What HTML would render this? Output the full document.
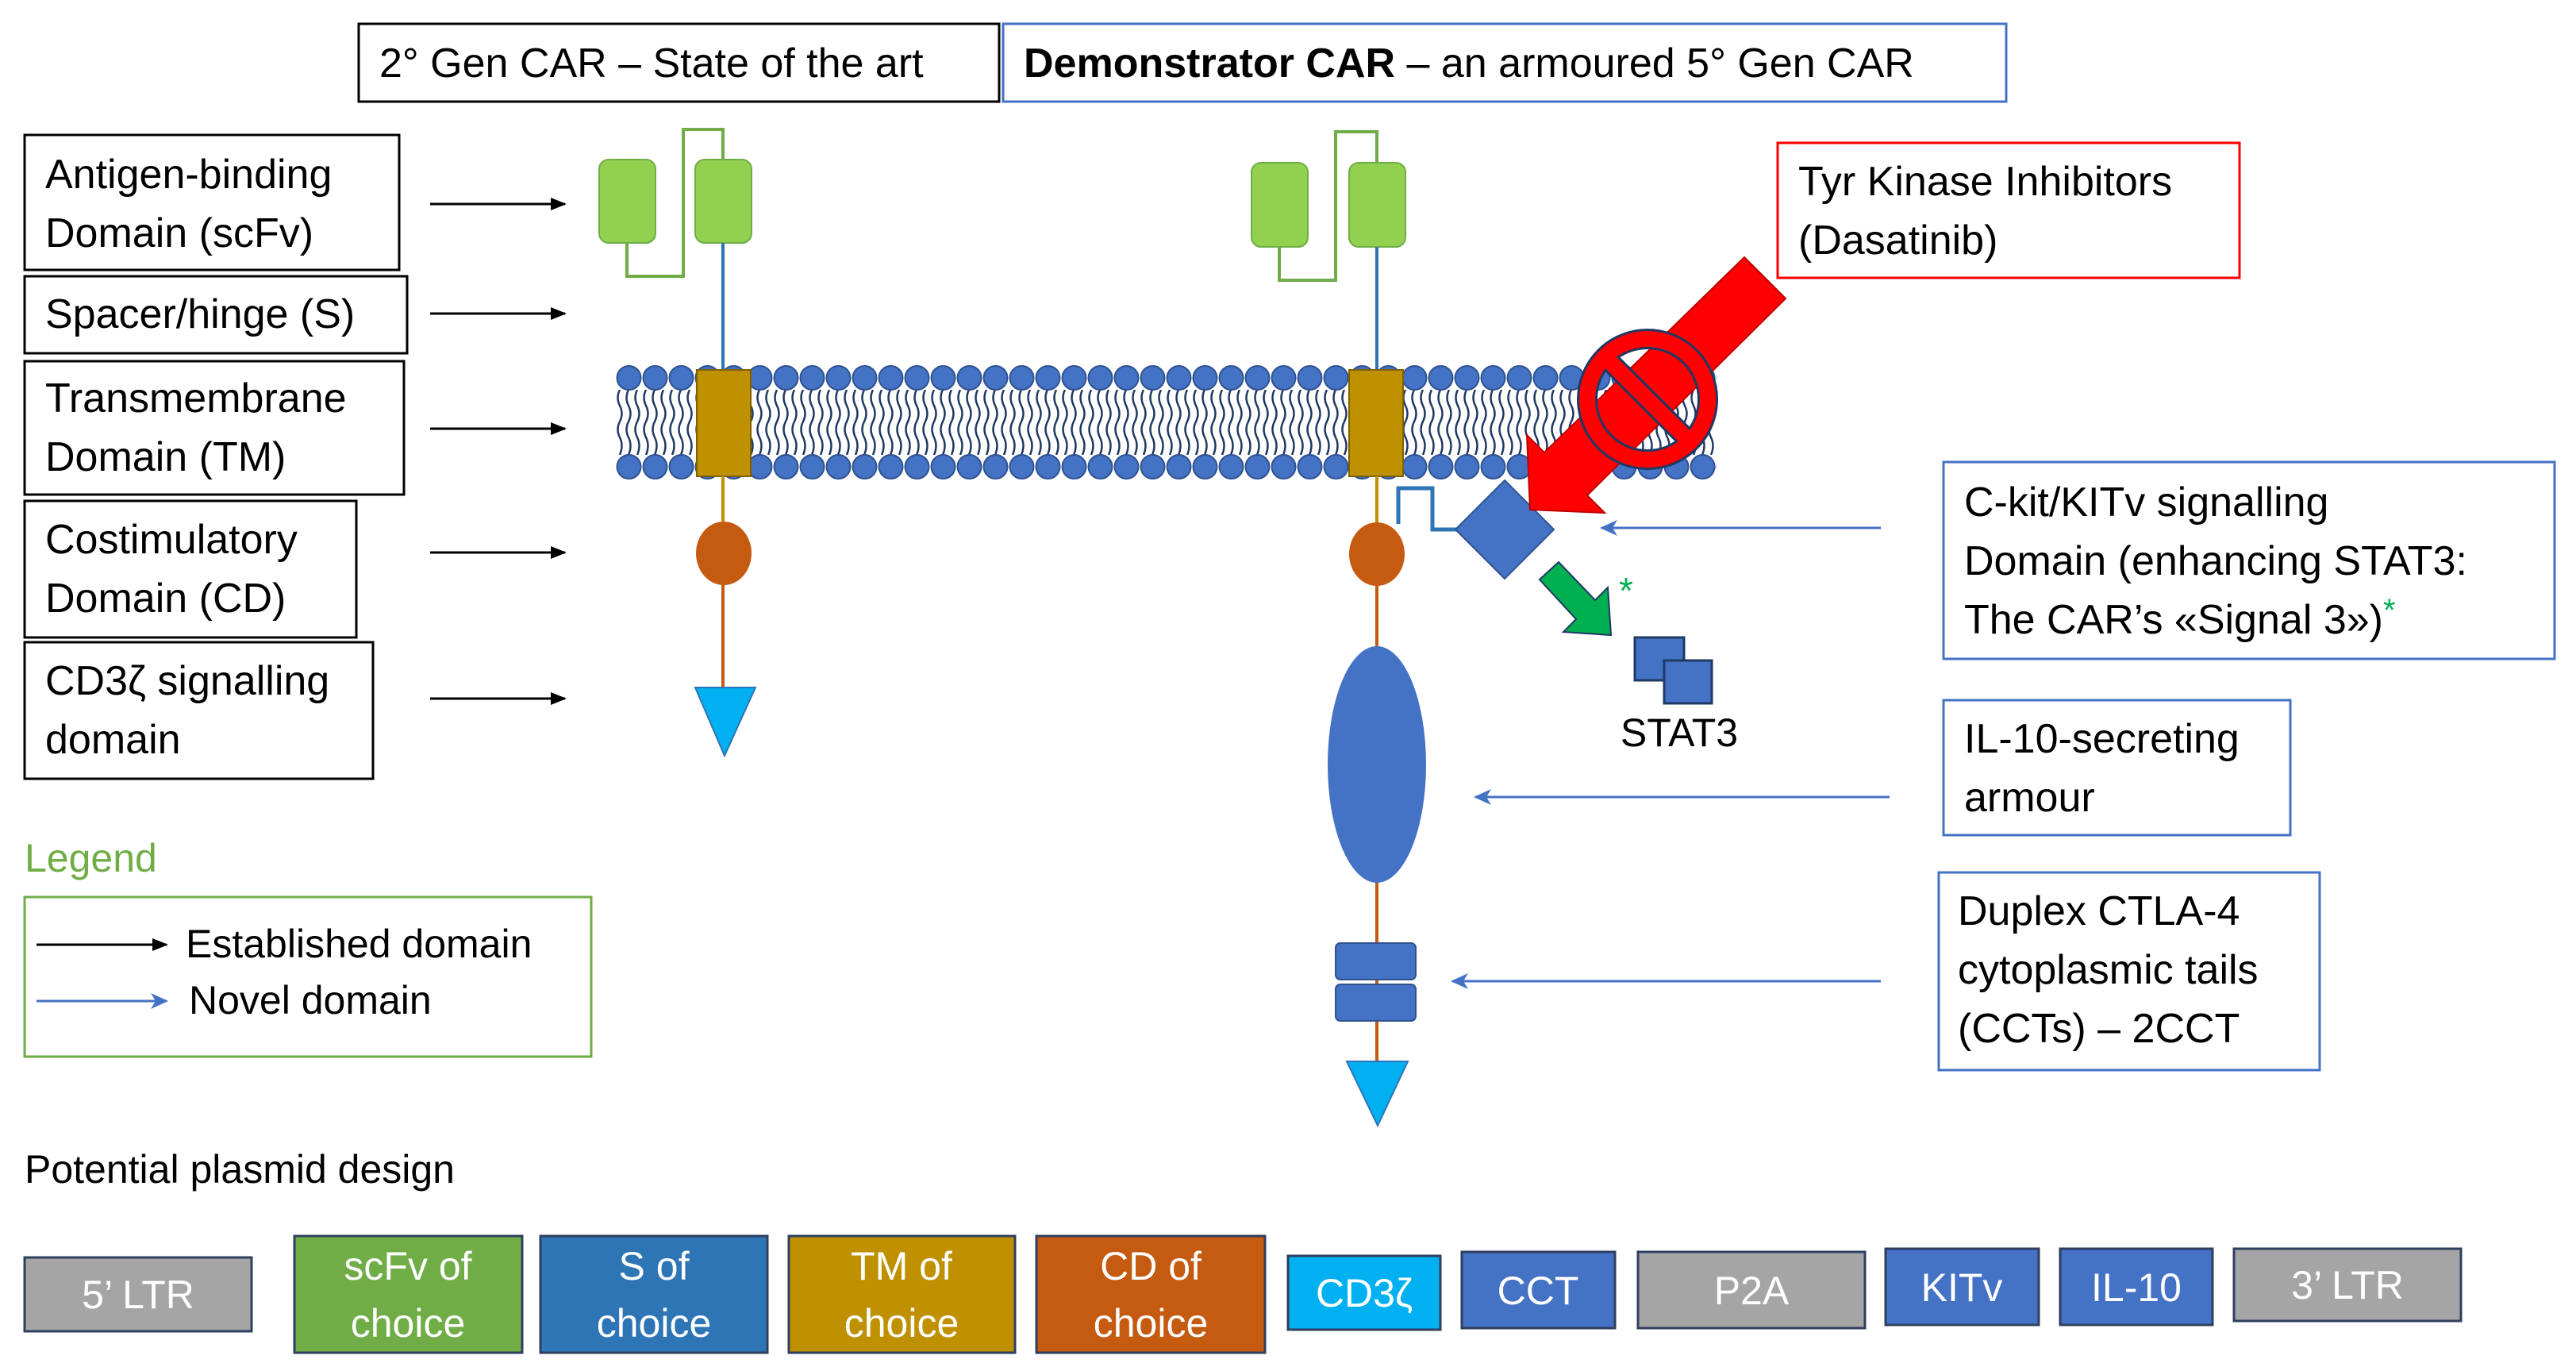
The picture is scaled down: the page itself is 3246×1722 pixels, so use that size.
<!DOCTYPE html>
<html><head><meta charset="utf-8"><style>
body{margin:0;background:#fff}
svg{display:block}
text{font-family:"Liberation Sans",sans-serif;fill:#000}
</style></head><body>
<svg width="3246" height="1722" viewBox="0 0 3246 1722" xmlns="http://www.w3.org/2000/svg">
<defs>
<pattern id="heads" x="776" y="0" width="33" height="1722" patternUnits="userSpaceOnUse">
<circle cx="16.5" cy="476" r="15" fill="#4472c4" stroke="#2f528f" stroke-width="2"/>
<circle cx="16.5" cy="588" r="15" fill="#4472c4" stroke="#2f528f" stroke-width="2"/>
</pattern>
<pattern id="tails" x="776" y="0" width="11" height="1722" patternUnits="userSpaceOnUse">
<path d="M5 491 q-5 10 0 20 q5 10 0 20 q-5 10 0 20 q5 10 0 22" fill="none" stroke="#1f3864" stroke-width="2.5"/>
</pattern>
<marker id="abl" markerWidth="22" markerHeight="20" refX="20" refY="10" orient="auto" markerUnits="userSpaceOnUse"><path d="M0 0 L22 10 L0 20 L6 10z" fill="#4472c4"/></marker>
<marker id="ab2" markerWidth="20" markerHeight="16" refX="18" refY="8" orient="auto" markerUnits="userSpaceOnUse"><path d="M0 0 L20 8 L0 16z" fill="#000"/></marker>
</defs>

<!-- header -->
<rect x="452" y="30" width="807" height="98" fill="#fff" stroke="#000" stroke-width="3"/>
<text x="478" y="97" font-size="52">2° Gen CAR – State of the art</text>
<rect x="1264" y="30" width="1264" height="98" fill="#fff" stroke="#4472c4" stroke-width="3"/>
<text x="1290" y="97" font-size="52"><tspan font-weight="bold">Demonstrator CAR</tspan> – an armoured 5° Gen CAR</text>

<!-- left labels -->
<g fill="none" stroke="#000" stroke-width="3">
<rect x="31" y="170" width="472" height="170"/>
<rect x="31" y="348" width="482" height="97"/>
<rect x="31" y="455" width="478" height="168"/>
<rect x="31" y="631" width="418" height="172"/>
<rect x="31" y="809" width="439" height="172"/>
</g>
<g font-size="52">
<text x="57" y="237">Antigen-binding</text><text x="57" y="311">Domain (scFv)</text>
<text x="57" y="413">Spacer/hinge (S)</text>
<text x="57" y="519">Transmembrane</text><text x="57" y="593">Domain (TM)</text>
<text x="57" y="697">Costimulatory</text><text x="57" y="771">Domain (CD)</text>
<text x="57" y="875">CD3ζ signalling</text><text x="57" y="949">domain</text>
</g>
<g stroke="#000" stroke-width="3" marker-end="url(#ab2)">
<line x1="542" y1="257" x2="712" y2="257"/>
<line x1="542" y1="395" x2="712" y2="395"/>
<line x1="542" y1="540" x2="712" y2="540"/>
<line x1="542" y1="696" x2="712" y2="696"/>
<line x1="542" y1="880" x2="712" y2="880"/>
</g>

<!-- legend -->
<text x="31" y="1098" font-size="50" style="fill:#70ad47">Legend</text>
<rect x="31" y="1130" width="714" height="201" fill="none" stroke="#70ad47" stroke-width="3"/>
<line x1="46" y1="1190" x2="210" y2="1190" stroke="#000" stroke-width="3" marker-end="url(#ab2)"/>
<text x="234" y="1206" font-size="50">Established domain</text>
<line x1="46" y1="1261" x2="210" y2="1261" stroke="#4472c4" stroke-width="3" marker-end="url(#abl)"/>
<text x="238" y="1277" font-size="50">Novel domain</text>

<!-- membrane -->
<rect x="776" y="491" width="1387" height="82" fill="url(#tails)"/>
<rect x="776" y="458" width="1387" height="150" fill="url(#heads)"/>

<!-- left CAR -->
<polyline points="790,306 790,348 861,348 861,163 911,163 911,201" fill="none" stroke="#70ad47" stroke-width="4"/>
<rect x="755" y="201" width="71" height="105" rx="12" fill="#92d050" stroke="#70ad47" stroke-width="2"/>
<rect x="876" y="201" width="71" height="105" rx="12" fill="#92d050" stroke="#70ad47" stroke-width="2"/>
<line x1="911" y1="306" x2="911" y2="466" stroke="#2e75b6" stroke-width="4"/>
<rect x="878" y="466" width="68" height="134" fill="#bf9000" stroke="#7f6000" stroke-width="2"/>
<line x1="911" y1="600" x2="911" y2="660" stroke="#bf9000" stroke-width="4"/>
<line x1="911" y1="735" x2="911" y2="870" stroke="#c55a11" stroke-width="4"/>
<ellipse cx="912" cy="697" rx="35" ry="40" fill="#c55a11"/>
<polygon points="876,866 952,866 913,952" fill="#00b0f0" stroke="#2e75b6" stroke-width="2"/>

<!-- right CAR -->
<polyline points="1612,311 1612,353 1683,353 1683,166 1735,166 1735,205" fill="none" stroke="#70ad47" stroke-width="4"/>
<rect x="1577" y="205" width="71" height="106" rx="12" fill="#92d050" stroke="#70ad47" stroke-width="2"/>
<rect x="1700" y="205" width="71" height="106" rx="12" fill="#92d050" stroke="#70ad47" stroke-width="2"/>
<line x1="1735" y1="311" x2="1735" y2="466" stroke="#2e75b6" stroke-width="4"/>
<rect x="1700" y="466" width="68" height="134" fill="#bf9000" stroke="#7f6000" stroke-width="2"/>
<line x1="1735" y1="600" x2="1735" y2="660" stroke="#bf9000" stroke-width="4"/>
<line x1="1735" y1="735" x2="1735" y2="1340" stroke="#c55a11" stroke-width="4"/>
<ellipse cx="1735" cy="698" rx="35" ry="40" fill="#c55a11"/>
<ellipse cx="1735" cy="963" rx="62" ry="149" fill="#4472c4"/>
<rect x="1683" y="1188" width="101" height="46" rx="6" fill="#4472c4" stroke="#2f528f" stroke-width="2"/>
<rect x="1683" y="1240" width="101" height="46" rx="6" fill="#4472c4" stroke="#2f528f" stroke-width="2"/>
<polygon points="1697,1337 1774,1337 1736,1418" fill="#00b0f0" stroke="#2e75b6" stroke-width="2"/>

<!-- KITv -->
<polyline points="1762,660 1762,615 1805,615 1805,667 1835,667" fill="none" stroke="#2e75b6" stroke-width="5"/>
<polygon points="1896,605 1958,667 1896,729 1834,667" fill="#4472c4" stroke="#2f528f" stroke-width="2"/>
<polygon points="1940,730 1964,708 2010,756 2026,740 2030,800 1970,796 1986,780" fill="#00b050" stroke="#1f3864" stroke-width="2"/>
<text x="2040" y="760" font-size="46" style="fill:#00b050">*</text>
<rect x="2060" y="803" width="62" height="54" fill="#4472c4" stroke="#1f3864" stroke-width="3"/>
<rect x="2097" y="832" width="60" height="54" fill="#4472c4" stroke="#1f3864" stroke-width="3"/>
<text x="2116" y="940" font-size="50" text-anchor="middle">STAT3</text>

<!-- red arrow + stop -->
<polygon points="2224,350 2250,376 2000,624 2022,646 1928,642 1924,548 1946,570 2198,324" fill="#ff0000" stroke="#c00000" stroke-width="2"/>
<g fill="none">
<circle cx="2076" cy="503" r="76" stroke="#1f3864" stroke-width="26"/>
<line x1="2022" y1="449" x2="2130" y2="557" stroke="#1f3864" stroke-width="26"/>
<circle cx="2076" cy="503" r="76" stroke="#ff0000" stroke-width="20"/>
<line x1="2022" y1="449" x2="2130" y2="557" stroke="#ff0000" stroke-width="20"/>
</g>

<!-- right labels -->
<rect x="2240" y="180" width="582" height="170" fill="#fff" stroke="#ff0000" stroke-width="3"/>
<text x="2266" y="246" font-size="52">Tyr Kinase Inhibitors</text>
<text x="2266" y="320" font-size="52">(Dasatinib)</text>

<rect x="2449" y="582" width="770" height="248" fill="none" stroke="#4472c4" stroke-width="3"/>
<text x="2475" y="650" font-size="52">C-kit/KITv signalling</text>
<text x="2475" y="724" font-size="52">Domain (enhancing STAT3:</text>
<text x="2475" y="798" font-size="52">The CAR’s «Signal 3»)<tspan font-size="40" dy="-16" style="fill:#00b050">*</tspan></text>

<rect x="2449" y="882" width="437" height="170" fill="none" stroke="#4472c4" stroke-width="3"/>
<text x="2475" y="948" font-size="52">IL-10-secreting</text>
<text x="2475" y="1022" font-size="52">armour</text>

<rect x="2443" y="1099" width="480" height="249" fill="none" stroke="#4472c4" stroke-width="3"/>
<text x="2467" y="1165" font-size="52">Duplex CTLA-4</text>
<text x="2467" y="1239" font-size="52">cytoplasmic tails</text>
<text x="2467" y="1313" font-size="52">(CCTs) – 2CCT</text>

<g stroke="#4472c4" stroke-width="3" marker-end="url(#abl)">
<line x1="2370" y1="665" x2="2018" y2="665"/>
<line x1="2381" y1="1004" x2="1859" y2="1004"/>
<line x1="2370" y1="1236" x2="1830" y2="1236"/>
</g>

<!-- plasmid -->
<text x="31" y="1490" font-size="50">Potential plasmid design</text>
<g stroke="#2f3f5f" stroke-width="3">
<rect x="31" y="1584" width="286" height="93" fill="#a5a5a5"/>
<rect x="371" y="1557" width="287" height="147" fill="#70ad47"/>
<rect x="681" y="1557" width="286" height="147" fill="#2e75b6"/>
<rect x="994" y="1557" width="285" height="147" fill="#bf9000"/>
<rect x="1306" y="1557" width="288" height="147" fill="#c55a11"/>
<rect x="1623" y="1582" width="192" height="93" fill="#00b0f0"/>
<rect x="1842" y="1577" width="193" height="96" fill="#4472c4"/>
<rect x="2064" y="1577" width="286" height="96" fill="#a5a5a5"/>
<rect x="2376" y="1573" width="193" height="96" fill="#4472c4"/>
<rect x="2596" y="1573" width="192" height="96" fill="#4472c4"/>
<rect x="2815" y="1573" width="286" height="91" fill="#a5a5a5"/>
</g>
<g font-size="50" text-anchor="middle">
<text x="174" y="1648" style="fill:#fff">5’ LTR</text>
<text x="514" y="1612" style="fill:#fff">scFv of</text><text x="514" y="1684" style="fill:#fff">choice</text>
<text x="824" y="1612" style="fill:#fff">S of</text><text x="824" y="1684" style="fill:#fff">choice</text>
<text x="1136" y="1612" style="fill:#fff">TM of</text><text x="1136" y="1684" style="fill:#fff">choice</text>
<text x="1450" y="1612" style="fill:#fff">CD of</text><text x="1450" y="1684" style="fill:#fff">choice</text>
<text x="1719" y="1646" style="fill:#fff">CD3ζ</text>
<text x="1938" y="1643" style="fill:#fff">CCT</text>
<text x="2207" y="1643" style="fill:#fff">P2A</text>
<text x="2472" y="1639" style="fill:#fff">KITv</text>
<text x="2692" y="1639" style="fill:#fff">IL-10</text>
<text x="2958" y="1636" style="fill:#fff">3’ LTR</text>
</g>
</svg>
</body></html>
